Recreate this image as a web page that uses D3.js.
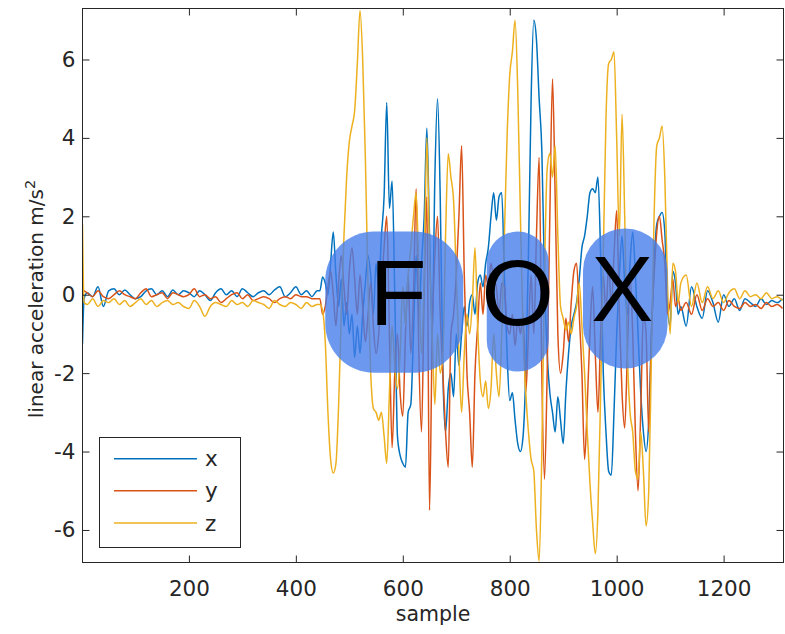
<!DOCTYPE html>
<html>
<head>
<meta charset="utf-8">
<script src="https://cdn.jsdelivr.net/npm/d3@7"></script>
<style>
  body { margin: 0; background: #fff; }
  svg { display: block; }
</style>
</head>
<body>
<svg id="chart" width="785" height="634"></svg>
<script>
// Sample positions: sparse while the sensor is at rest, denser during the gesture.
const restSamples = [1, 4, 10, 20, 30, 40, 50, 60, 70, 80, 90, 100, 110, 120, 130, 140, 150, 160, 170, 180,
  190, 200, 210, 220, 230, 240, 250, 260, 270, 280, 290, 300, 310, 320, 330, 340, 350, 360, 370, 380,
  390, 400, 410, 420, 430, 440];
const gestureSamples = d3.range(445, 1121, 5);
const tailSamples = [1130, 1140, 1150, 1160, 1170, 1180, 1190, 1200, 1210, 1220, 1230, 1240, 1250,
  1260, 1270, 1280, 1290, 1300, 1310];
const sampleIdx = [...restSamples, ...gestureSamples, ...tailSamples];

// Linear acceleration (m/s^2) per axis
const accX = [
  -1.25, -0.1, 0.05, -0.05, 0.2, -0.3, 0.1, 0.15, 0.0, 0.12, 0.0, -0.1, -0.05, 0.1, 0.15, 0.0, 0.1, -0.05, 0.12, 0.0,
  0.1, 0.05, -0.05, 0.1, 0.0, -0.15, 0.05, 0.15, 0.0, 0.1, -0.05, 0.15, 0.05, -0.05, 0.05, 0.1, 0.0, 0.12, 0.2, -0.05,
  0.05, 0.2, 0.0, 0.1, -0.05, 0.1,
  // gesture
  0.1, 0.45, 0.3, 0.0, 0.8, 1.6, 0.5, -0.3, 0.4, -0.8,
  -0.2, -1.0, -0.5, -1.6, -0.8, -1.5, -0.5, 0.3, 1.0, 0.5,
  -0.5, 0.8, 0.2, 1.5, 2.5, 4.9, 2.2, 2.9, 0.0, -3.6,
  -4.1, -4.3, -4.4, -3.0, -2.8, -1.0, 1.0, -0.5, 0.8, 2.0,
  4.25, 1.5, -1.0, 3.0, 5.0, 2.5, -2.0, -3.5, -2.4, -2.0,
  -2.6, -1.0, -1.8, -1.0, -0.3, -0.8, -0.2, 0.0, -0.5, 0.3,
  0.5, 0.2, 0.8, 1.2, 2.0, 2.6, 1.9, 2.5, 2.6, 0.5,
  -1.5, -2.7, -2.5, -3.2, -3.8, -4.0, -3.6, -2.0, 1.0, 5.0,
  7.0, 6.5, 5.0, 3.7, 0.5, -1.5, -2.5, -3.0, -3.5, -2.6,
  -3.2, -3.8, -2.5, -1.5, -0.8, -0.5, -0.2, 0.4, 1.2, 1.5,
  2.0, 2.6, 2.7, 2.6, 3.0, 1.0, -2.0, -3.5, -4.5, -4.6,
  -3.0, -1.0, 0.5, 1.5, 0.3, -0.5, 0.8, 1.6, 0.5, -1.0,
  -2.5, -3.5, -4.0, -3.2, -1.0, 0.8, 1.8, 2.0, 2.1, 1.6,
  -0.3, -0.8, 0.6, 0.3, -0.5, -0.3,
  // settling
  -0.8, 0.2, -0.3, -0.6, 0.1, -0.2, -0.7, 0.0, -0.3, -0.1, -0.4, -0.1, -0.2, -0.3, -0.1, -0.25, -0.15, -0.2, -0.1
];

const accY = [
  0.15, 0.1, 0.05, -0.05, 0.1, -0.05, -0.1, 0.0, 0.1, 0.0, -0.05, -0.1, 0.05, 0.15, -0.05, 0.0, 0.05, -0.1, 0.05, 0.0,
  -0.05, 0.0, 0.15, -0.05, 0.0, -0.1, -0.05, -0.2, -0.1, 0.0, 0.05, -0.1, 0.0, -0.15, -0.1, -0.05, -0.1, -0.2, -0.1, -0.05,
  -0.1, 0.0, -0.05, -0.05, -0.1, -0.1,
  // gesture
  -0.1, -0.5, -0.3, 0.2, 0.6, 0.0, -0.8, 0.3, 1.0, 0.2,
  -0.5, 0.6, 1.2, 0.4, -0.5, 0.5, -0.3, -1.2, -0.5, 0.3,
  -0.8, -1.5, -1.0, 0.2, 1.2, 2.0, -1.0, -3.9, -2.0, -1.0,
  -2.5, -3.1, -1.0, 0.5, -1.5, 0.0, 2.7, -1.5, -3.5, 0.0,
  2.5, -5.5, -1.0, 1.0, 2.0, -0.5, -2.0, -3.5, -4.4, -1.0,
  -0.5, 0.5, 2.0, 3.8, 0.5, -2.0, -3.0, -4.4, -2.0, -0.8,
  0.3, -0.5, 0.5, 0.2, 0.8, 0.4, 0.2, -0.5, 0.3, 0.2,
  -0.8, -1.0, -0.5, -1.3, -0.6, -1.0, -0.5, -2.5, -1.0, 0.5,
  -1.0, 1.5, 3.5, -2.0, -4.7, -2.0, 2.0, 5.5, 2.5, -1.0,
  -2.0, -1.5, -0.6, -1.2, -0.2, 0.6, 0.8, -0.5, -2.0, -4.2,
  -2.8, -1.0, 0.2, -1.5, -3.0, -1.0, 0.5, -0.5, 0.8, -0.3,
  1.0, 2.15, -0.5, -2.5, -3.4, -1.5, 0.5, -1.0, -3.5, -5.0,
  -3.0, -0.5, -1.0, -3.5, -1.0, 0.5, 1.6, 2.0, 1.4, 0.8,
  -0.5, -0.2, 0.4, -0.3, -0.1, -0.4,
  // settling
  -0.2, -0.5, 0.0, -0.4, -0.1, -0.3, -0.2, -0.4, -0.15, -0.3, -0.35, -0.2, -0.3, -0.25, -0.35, -0.2, -0.3, -0.25, -0.35
];

const accZ = [
  1.8, -0.2, -0.25, -0.1, -0.3, -0.15, -0.2, -0.1, -0.25, -0.15, -0.3, -0.2, -0.1, -0.25, -0.15, -0.3, -0.2, -0.15, -0.25, -0.2,
  -0.3, -0.35, -0.15, -0.3, -0.55, -0.3, -0.2, -0.25, -0.3, -0.15, -0.25, -0.2, -0.3, -0.15, -0.2, -0.25, -0.35, -0.15, -0.25, -0.3,
  -0.2, -0.25, -0.35, -0.2, -0.3, -0.25,
  // gesture
  -0.25, -0.4, -1.2, -3.0, -4.2, -4.55, -4.3, -2.8, -0.5, 1.5,
  3.0, 3.9, 4.3, 4.7, 5.9, 7.25, 6.0, 3.5, 0.2, -2.0,
  -2.9, -3.0, -3.2, -3.0, -3.6, -4.3, -2.5, -0.8, -1.8, -2.4,
  -1.5, 0.2, -0.8, 0.5, 1.2, 2.0, 2.6, 0.5, -1.5, 0.5,
  4.0, 1.0, -1.0, -2.8, -1.0, -2.0, -1.5, 1.5, 3.6, 3.0,
  2.4, 0.5, -1.5, -3.0, -1.5, -0.5, -1.0, -0.2, 1.2, -0.8,
  -2.2, -2.6, -2.2, -2.9, -2.4, -1.0, -2.0, -2.6, -1.0, 1.5,
  4.0, 5.6, 6.2, 7.0, 5.2, 2.0, -1.0, -2.5, -3.5, -4.2,
  -4.5, -6.0, -6.8, -4.0, 0.5, 3.2, 3.6, 3.0, 3.8, 1.5,
  -0.3, -0.6, -0.9, -0.7, -1.0, -0.6, -0.3, 0.3, -0.8, -2.0,
  -3.5, -4.8, -5.8, -6.6, -5.5, -2.5, 1.0, 4.5, 5.9, 6.0,
  6.2, 4.0, 1.5, 4.6, 2.0, -1.5, -3.0, -3.5, -4.5, -4.7,
  -3.5, -4.5, -5.9, -5.0, -1.5, 2.0, 3.8, 4.0, 4.3, 3.0,
  0.3, -1.0, 0.8, 0.6, -0.2, 0.3,
  // settling
  0.5, -0.3, 0.3, -0.2, 0.2, -0.1, 0.1, -0.2, 0.05, 0.15, -0.1, 0.1, -0.05, 0.0, -0.1, 0.05, -0.1, -0.05, -0.15
];

const seriesNames = ["x", "y", "z"];
const seriesColors = ["#0072BD", "#D95319", "#EDB120"];
const xTicks = [200, 400, 600, 800, 1000, 1200];
const yTicks = [-6, -4, -2, 0, 2, 4, 6];
const xLimits = [1, 1312];
const yLimits = [-6.83, 7.30];

// Letter callouts drawn over the gesture segments
const letters = ["F", "O", "X"];
const letterSpans = [[455, 713], [757, 873], [937, 1095]];   // sample range covered by each marker
const letterLevels = [[-1.99, 1.61], [-1.96, 1.61], [-1.88, 1.69]]; // value range covered
const letterNudge = [4, 0, -3];                                // horizontal glyph offset, px

const W = 785, H = 634;
const plot = { left: 82.5, right: 783.5, top: 8.5, bottom: 562.5 };
const axisColor = "#262626";
const tickFont = "DejaVu Sans";
const fmt = d => String(d);   // plain hyphen-minus for negatives

const svg = d3.select("#chart");

const x = d3.scaleLinear().domain(xLimits).range([plot.left, plot.right]);
const y = d3.scaleLinear().domain(yLimits).range([plot.bottom, plot.top]);

svg.append("rect").attr("width", W).attr("height", H).attr("fill", "#fff");

svg.append("defs").append("clipPath").attr("id", "plotClip")
  .append("rect")
  .attr("x", plot.left).attr("y", plot.top)
  .attr("width", plot.right - plot.left).attr("height", plot.bottom - plot.top);

// Data lines
const series = [accX, accY, accZ];
const line = d3.line()
  .x(d => x(d[0]))
  .y(d => y(d[1]))
  .curve(d3.curveMonotoneX);

const lineLayer = svg.append("g").attr("clip-path", "url(#plotClip)");
series.forEach((vals, i) => {
  const pts = sampleIdx.map((s, k) => [s, vals[k]]).filter(p => p[1] !== undefined);
  lineLayer.append("path")
    .datum(pts)
    .attr("fill", "none")
    .attr("stroke", seriesColors[i])
    .attr("stroke-width", 1.5)
    .attr("stroke-linejoin", "round")
    .attr("d", line);
});

// Letter markers
const markerLayer = svg.append("g");
letters.forEach((t, i) => {
  const x0 = x(letterSpans[i][0]), x1 = x(letterSpans[i][1]);
  const y0 = y(letterLevels[i][1]), y1 = y(letterLevels[i][0]);
  const w = x1 - x0, h = y1 - y0;
  const r = Math.min(w / 2, 49);
  markerLayer.append("rect")
    .attr("x", x0).attr("y", y0)
    .attr("width", w).attr("height", h)
    .attr("rx", r).attr("ry", r)
    .attr("fill", "rgb(66,124,235)")
    .attr("fill-opacity", 0.78);
  markerLayer.append("text")
    .attr("x", (x0 + x1) / 2 + letterNudge[i])
    .attr("y", y0 + h / 2 + 23)
    .attr("text-anchor", "middle")
    .attr("font-family", "Liberation Sans, Arial, sans-serif")
    .attr("font-size", 93)
    .attr("fill", "#000")
    .text(t);
});

// Axes box with inward ticks on all four sides
function styleAxis(g) {
  g.selectAll("path").attr("stroke", axisColor).attr("stroke-width", 1);
  g.selectAll("line").attr("stroke", axisColor).attr("stroke-width", 1);
  g.selectAll("text")
    .attr("fill", axisColor)
    .attr("font-family", tickFont)
    .attr("font-size", 21.5);
}

svg.append("g")
  .attr("transform", `translate(0,${plot.bottom})`)
  .call(d3.axisBottom(x).tickValues(xTicks).tickSizeInner(-7).tickSizeOuter(0).tickPadding(18).tickFormat(fmt))
  .call(styleAxis)
  .call(g => g.select(".domain").remove());

svg.append("g")
  .attr("transform", `translate(${plot.left},0)`)
  .call(d3.axisLeft(y).tickValues(yTicks).tickSizeInner(-7).tickSizeOuter(0).tickPadding(7).tickFormat(fmt))
  .call(styleAxis)
  .call(g => g.select(".domain").remove());

svg.append("g")
  .attr("transform", `translate(0,${plot.top})`)
  .call(d3.axisTop(x).tickValues(xTicks).tickSizeInner(-7).tickSizeOuter(0).tickFormat(""))
  .call(styleAxis)
  .call(g => g.select(".domain").remove());

svg.append("g")
  .attr("transform", `translate(${plot.right},0)`)
  .call(d3.axisRight(y).tickValues(yTicks).tickSizeInner(-7).tickSizeOuter(0).tickFormat(""))
  .call(styleAxis)
  .call(g => g.select(".domain").remove());

svg.append("rect")
  .attr("x", plot.left).attr("y", plot.top)
  .attr("width", plot.right - plot.left).attr("height", plot.bottom - plot.top)
  .attr("fill", "none")
  .attr("stroke", axisColor)
  .attr("stroke-width", 1);

// Axis titles
svg.append("text")
  .attr("x", (plot.left + plot.right) / 2)
  .attr("y", 621)
  .attr("text-anchor", "middle")
  .attr("font-family", tickFont)
  .attr("font-size", 20.5)
  .attr("fill", axisColor)
  .text("sample");

const yTitle = svg.append("text")
  .attr("transform", "translate(43,299) rotate(-90)")
  .attr("text-anchor", "middle")
  .attr("font-family", tickFont)
  .attr("font-size", 20)
  .attr("fill", axisColor);
yTitle.append("tspan").text("linear acceleration m/s");
yTitle.append("tspan").attr("dy", -8).attr("font-size", 14.5).text("2");

// Legend
const legend = svg.append("g");
const lg = { x: 99.5, y: 437.5, w: 141, h: 110 };
legend.append("rect")
  .attr("x", lg.x).attr("y", lg.y).attr("width", lg.w).attr("height", lg.h)
  .attr("fill", "#fff").attr("stroke", axisColor).attr("stroke-width", 1);
const rowY = d3.scalePoint().domain(seriesNames).range([458.7, 523]);
seriesNames.forEach((n, i) => {
  legend.append("line")
    .attr("x1", 114).attr("x2", 197)
    .attr("y1", rowY(n)).attr("y2", rowY(n))
    .attr("stroke", seriesColors[i]).attr("stroke-width", 1.5);
  legend.append("text")
    .attr("x", 205).attr("y", rowY(n) + 7.5)
    .attr("font-family", tickFont)
    .attr("font-size", 21.5)
    .attr("fill", axisColor)
    .text(n);
});
</script>
</body>
</html>
